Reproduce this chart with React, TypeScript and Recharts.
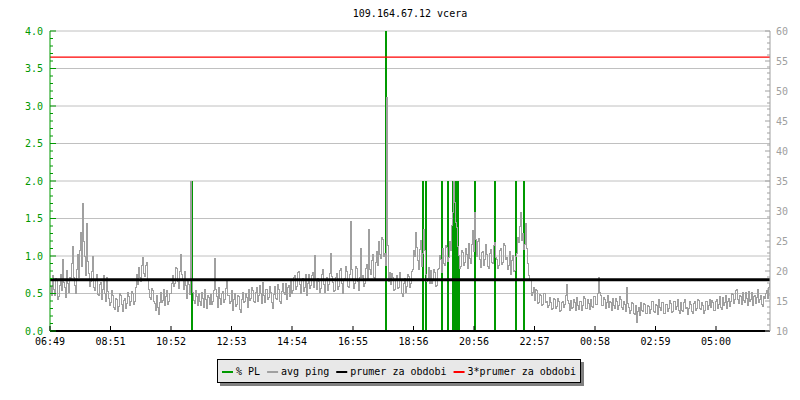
import React from 'react';
import { ComposedChart, Line, Bar, XAxis, YAxis, CartesianGrid, ReferenceLine } from 'recharts';

const TITLE = '109.164.67.12 vcera';
const STEP_MIN = 2;

const PING = [
  17.5, 15.9, 19.2, 17.0, 16.0, 18.7, 18.4, 15.3, 15.8, 17.6, 19.5, 16.8, 22.0, 18.1, 17.2, 15.6, 20.1, 17.9, 16.4, 19.0,
  18.8, 21.3, 24.1, 18.9, 17.6, 16.2, 20.3, 22.7, 19.0, 23.4, 26.5, 20.8, 31.2, 25.0, 22.4, 19.3, 28.0, 21.6, 19.6, 17.4,
  18.2, 20.0, 22.5, 17.3, 16.8, 18.6, 19.4, 16.1, 15.9, 17.8, 18.1, 15.2, 17.0, 19.3, 16.2, 14.9, 19.0, 16.6, 15.4, 14.2,
  14.8, 16.7, 15.9, 13.9, 13.6, 15.4, 15.2, 13.3, 14.1, 16.3, 16.0, 14.4, 13.2, 15.1, 15.5, 13.7, 14.6, 16.4, 15.8, 14.3,
  14.9, 16.6, 16.2, 14.5, 15.0, 17.3, 19.4, 17.8, 20.6, 18.9, 18.2, 20.9, 22.3, 19.6, 19.1, 21.0, 21.5, 18.4, 17.0, 15.6,
  15.3, 17.1, 16.8, 14.9, 14.6, 13.5, 15.9, 14.0, 12.8, 14.7, 16.4, 14.8, 15.1, 16.9, 14.2, 15.7, 16.7, 14.4, 15.0, 16.3,
  16.2, 18.0, 19.3, 17.4, 18.0, 20.6, 20.4, 18.2, 17.1, 19.9, 22.8, 19.5, 18.6, 16.9, 20.0, 17.6, 15.4, 18.3, 17.8, 16.1,
  35.0, 18.6, 16.5, 15.1, 14.6, 16.8, 15.8, 14.3, 16.3, 15.0, 14.2, 16.4, 15.5, 13.9, 16.9, 15.2, 13.8, 15.9, 15.6, 14.5,
  16.1, 14.4, 14.9, 16.7, 22.1, 17.0, 15.7, 14.0, 17.3, 15.5, 14.5, 16.2, 16.6, 14.8, 15.2, 17.1, 18.4, 15.9, 16.0, 14.6,
  15.0, 16.8, 13.4, 15.3, 16.2, 14.1, 14.4, 16.0, 15.8, 13.6, 13.1, 15.2, 16.5, 14.7, 14.9, 16.3, 15.6, 13.9, 17.0, 15.1,
  15.4, 17.3, 16.8, 14.9, 14.7, 16.4, 17.2, 15.0, 15.9, 17.6, 16.3, 14.6, 18.1, 16.0, 14.8, 16.9, 17.0, 15.2, 15.6, 17.4,
  16.5, 14.7, 13.8, 16.1, 17.4, 15.5, 15.2, 17.8, 16.9, 14.9, 14.6, 16.6, 18.0, 16.4, 16.1, 17.9, 15.3, 17.2, 17.6, 15.8,
  18.4, 16.3, 16.7, 18.9, 19.2, 17.0, 17.5, 19.7, 20.0, 17.7, 16.3, 18.5, 18.8, 16.6, 17.2, 19.4, 15.9, 18.0, 19.5, 17.1,
  17.6, 19.3, 19.8, 17.2, 22.6, 18.4, 16.9, 18.8, 18.3, 16.5, 17.1, 19.5, 20.2, 17.8, 16.4, 18.6, 18.9, 16.8, 17.7, 19.6,
  23.0, 19.1, 18.1, 16.6, 16.8, 18.9, 19.6, 17.0, 17.4, 20.1, 20.5, 17.9, 16.2, 18.4, 18.7, 20.8, 19.9, 17.5, 17.3, 19.4,
  28.3, 20.2, 18.6, 17.1, 17.9, 20.7, 20.4, 18.3, 16.7, 19.0, 23.8, 18.9, 19.2, 17.4, 18.0, 20.5, 21.1, 18.6, 27.0, 20.3,
  19.4, 21.7, 22.8, 19.0, 18.5, 21.4, 23.2, 21.0, 24.9, 22.7, 22.1, 25.6, 25.3, 22.4, 23.0, 20.9, 49.0, 24.2, 18.2, 19.7,
  17.8, 19.6, 18.9, 16.7, 16.9, 18.5, 19.3, 17.1, 17.2, 19.8, 18.4, 16.3, 15.7, 17.9, 18.8, 16.5, 17.5, 19.4, 19.1, 17.3,
  17.9, 19.9, 20.2, 23.5, 22.4, 26.5, 24.0, 21.8, 20.3, 23.6, 25.1, 20.7, 22.9, 27.0, 23.4, 19.5, 18.3, 18.8, 20.6, 17.9,
  20.1, 18.0, 18.4, 20.3, 19.8, 17.5, 17.6, 20.2, 20.5, 22.6, 21.9, 19.8, 23.7, 21.2, 20.9, 24.3, 24.0, 21.6, 22.2, 25.0,
  23.5, 27.6, 29.8, 35.0, 31.4, 28.1, 27.2, 24.1, 22.6, 20.4, 20.8, 23.4, 23.1, 21.0, 21.4, 23.8, 22.7, 20.5, 24.6, 22.1,
  21.3, 24.4, 26.8, 23.2, 29.7, 25.3, 22.5, 24.9, 25.4, 22.0, 20.6, 23.1, 23.3, 20.9, 21.9, 24.5, 22.8, 20.7, 20.4, 23.0,
  23.6, 21.4, 21.2, 24.3, 24.7, 22.2, 22.0, 20.5, 20.9, 23.5, 23.8, 21.1, 21.5, 24.6, 24.2, 22.0, 22.3, 20.3, 21.0, 23.2,
  19.4, 21.8, 22.6, 20.0, 20.1, 22.4, 23.0, 25.6, 24.8, 27.4, 29.7, 25.1, 26.2, 23.6, 24.5, 27.9, 23.8, 21.2, 19.3, 18.6,
  18.5, 16.0, 16.4, 17.3, 15.1, 16.9, 16.8, 14.6, 14.7, 16.1, 15.9, 14.2, 14.5, 16.3, 16.2, 14.8, 15.0, 13.9, 14.3, 15.6,
  14.8, 13.6, 13.7, 15.4, 15.2, 13.8, 14.1, 15.5, 14.9, 13.3, 13.5, 14.7, 15.0, 13.9, 14.4, 16.0, 17.7, 15.1, 14.6, 13.4,
  15.1, 13.7, 13.9, 15.3, 14.7, 13.5, 15.6, 14.2, 13.6, 15.0, 14.9, 13.4, 14.2, 15.7, 15.4, 13.8, 13.8, 15.2, 14.6, 13.6,
  15.3, 14.1, 14.0, 15.8, 15.7, 14.5, 14.4, 16.2, 19.0, 16.4, 15.9, 14.2, 14.3, 15.6, 15.2, 13.8, 14.8, 15.9, 13.9, 15.0,
  14.7, 13.5, 15.5, 14.2, 13.8, 15.4, 14.9, 13.6, 14.2, 15.7, 15.3, 13.9, 13.6, 15.0, 14.5, 13.2, 17.3, 14.6, 14.0, 12.9,
  13.4, 14.8, 14.6, 13.0, 12.8, 14.2, 11.5, 13.3, 13.9, 12.6, 14.8, 13.5, 13.2, 14.6, 14.4, 12.9, 12.9, 14.3, 14.1, 13.0,
  13.6, 15.0, 14.9, 13.3, 13.1, 14.5, 14.3, 12.8, 15.2, 13.9, 13.4, 14.8, 14.7, 13.0, 12.9, 14.4, 14.5, 13.2, 13.8, 15.1,
  14.6, 13.1, 13.3, 14.9, 15.0, 13.6, 14.1, 15.3, 13.5, 12.9, 14.8, 13.4, 13.2, 14.7, 15.3, 13.8, 14.0, 12.8, 13.7, 15.0,
  14.4, 13.2, 13.0, 14.6, 14.9, 13.5, 13.8, 15.2, 15.1, 13.7, 13.6, 14.8, 14.3, 12.9, 13.4, 14.9, 15.0, 13.6, 14.2, 15.3,
  13.9, 15.1, 14.7, 13.4, 13.5, 14.9, 15.2, 13.8, 14.4, 15.7, 14.0, 13.6, 15.6, 14.3, 14.8, 16.0, 13.7, 14.9, 15.4, 14.1,
  14.9, 16.3, 16.1, 14.6, 15.3, 16.8, 17.0, 15.2, 14.6, 16.0, 15.8, 14.5, 16.4, 15.1, 14.8, 16.5, 15.5, 14.2, 16.6, 15.0,
  15.2, 16.4, 14.3, 15.8, 16.0, 14.6, 15.6, 16.9, 14.7, 15.3, 15.9, 14.4, 14.1, 15.7, 15.4, 16.2, 16.8, 15.5, 17.2, 18.0,
];

// packet loss events: minute since 06:49 and % PL
const PL_TIMES = [284, 672, 746, 752, 784, 796, 806, 808, 810, 812, 814, 816, 818, 850, 890, 932, 948];
const PL_VALUES = [2.0, 4.0, 2.0, 2.0, 2.0, 2.0, 2.0, 2.0, 1.0, 2.0, 0.9, 2.0, 0.9, 2.0, 2.0, 2.0, 2.0];

const PRUMER = 18.55;
const PRUMER3 = 55.65;

const X_TICKS = [0, 121, 242, 363, 484, 606, 727, 848, 969, 1090, 1211, 1332];
const X_LABELS = ['06:49', '08:51', '10:52', '12:53', '14:54', '16:55', '18:56', '20:56', '22:57', '00:58', '02:59', '05:00'];

const PL_GRID = [0.5, 1.0, 1.5, 2.0, 2.5, 3.0, 3.5, 4.0];
const PL_TICKS = Array.from({ length: 41 }, (_, i) => i / 10);
const PING_TICKS = Array.from({ length: 51 }, (_, i) => 10 + i);

const LEGEND = [
  { label: '% PL', color: '#009900' },
  { label: 'avg ping', color: '#a0a0a0' },
  { label: 'prumer za obdobi', color: '#000000' },
  { label: '3*prumer za obdobi', color: '#ff0000' },
];

const GREEN = '#009900';
const GRAYLINE = '#a0a0a0';
const MONO = '"DejaVu Sans Mono", monospace';

const data = (() => {
  const rows = PING.map((v, i) => ({ t: i * STEP_MIN, ping: v as number | undefined, pl: undefined as number | undefined }));
  PL_TIMES.forEach((t, k) => {
    const row = rows.find((r) => r.t === t);
    if (row) row.pl = PL_VALUES[k];
    else rows.push({ t, ping: undefined, pl: PL_VALUES[k] });
  });
  rows.sort((a, b) => a.t - b.t);
  return rows;
})();

const LeftTick = (props: any) => {
  const { x, y, payload } = props;
  const v = payload.value as number;
  const major = Math.abs(v * 2 - Math.round(v * 2)) < 1e-6;
  return (
    <g>
      <line x1={x} x2={x + (major ? 6 : 3)} y1={y} y2={y} stroke={GREEN} strokeWidth={1} />
      {major && (
        <text x={x - 7} y={y} dy={3.7} textAnchor="end" fill={GREEN} fontSize={10} fontFamily={MONO}>
          {v.toFixed(1)}
        </text>
      )}
    </g>
  );
};

const RightTick = (props: any) => {
  const { x, y, payload } = props;
  const v = payload.value as number;
  const major = v % 5 === 0;
  return (
    <g>
      <line x1={x - (major ? 5 : 3)} x2={x} y1={y} y2={y} stroke="#a0a0a0" strokeWidth={1} />
      {major && (
        <text x={x + 6} y={y} dy={3.7} textAnchor="start" fill="#a0a0a0" fontSize={10} fontFamily={MONO}>
          {v}
        </text>
      )}
    </g>
  );
};

const BottomTick = (props: any) => {
  const { x, y, payload, index } = props;
  const idx = X_TICKS.indexOf(payload.value);
  const label = X_LABELS[idx >= 0 ? idx : index];
  return (
    <g>
      <line x1={x} x2={x} y1={y - 5} y2={y} stroke="#000" strokeWidth={1} />
      <text x={x} y={y + 14} textAnchor="middle" fill="#000" fontSize={10} fontFamily={MONO}>
        {label}
      </text>
    </g>
  );
};

const PlShape = (props: any) => {
  const { x, y, width, height } = props;
  if (!height || height <= 0) return null;
  const cx = x + width / 2;
  return <rect x={cx - 1} y={y} width={2} height={height} fill={GREEN} shapeRendering="crispEdges" />;
};

export default function App() {
  let lx = 222;
  const legendItems = LEGEND.map((it) => {
    const sx = lx;
    const tx = sx + 14;
    lx = tx + it.label.length * 6.02 + 7;
    return (
      <g key={it.label}>
        <rect x={sx} y={371} width={11} height={2} fill={it.color} />
        <text x={tx} y={374.5} fontSize={10} fontFamily={MONO} fill="#000">
          {it.label}
        </text>
      </g>
    );
  });

  return (
    <div style={{ position: 'absolute', left: 0, top: 0, width: 800, height: 400, background: '#fff' }}>
      <ComposedChart
        width={800}
        height={400}
        data={data}
        margin={{ top: 31, right: 0, bottom: 39, left: 0 }}
      >
        <CartesianGrid
          vertical={false}
          horizontalValues={PL_GRID}
          yAxisId="pl"
          stroke="#c0c0c0"
          strokeWidth={1}
        />
        <XAxis
          dataKey="t"
          type="number"
          domain={[0, 1440]}
          ticks={X_TICKS}
          interval={0}
          height={30}
          tickSize={0}
          tickMargin={0}
          tickLine={false}
          tick={<BottomTick />}
          axisLine={{ stroke: '#000', strokeWidth: 2 }}
          allowDataOverflow
        />
        <YAxis
          yAxisId="pl"
          orientation="left"
          domain={[0, 4]}
          ticks={PL_TICKS}
          interval={0}
          width={50}
          tickSize={0}
          tickMargin={0}
          tickLine={false}
          tick={<LeftTick />}
          axisLine={{ stroke: GREEN, strokeWidth: 1 }}
          allowDataOverflow
        />
        <YAxis
          yAxisId="ping"
          orientation="right"
          domain={[10, 60]}
          ticks={PING_TICKS}
          interval={0}
          width={30}
          tickSize={0}
          tickMargin={0}
          tickLine={false}
          tick={<RightTick />}
          axisLine={{ stroke: '#a0a0a0', strokeWidth: 1 }}
          allowDataOverflow
        />
        <Bar yAxisId="pl" dataKey="pl" fill={GREEN} barSize={2} shape={<PlShape />} isAnimationActive={false} />
        <Line
          yAxisId="ping"
          dataKey="ping"
          type="stepAfter"
          stroke={GRAYLINE}
          strokeWidth={1}
          shapeRendering="crispEdges"
          dot={false}
          activeDot={false}
          connectNulls
          isAnimationActive={false}
        />
        <ReferenceLine yAxisId="ping" y={PRUMER} stroke="#000" strokeWidth={3} />
        <ReferenceLine yAxisId="ping" y={PRUMER3} stroke="#ff0000" strokeWidth={1.3} />
      </ComposedChart>
      <svg width={800} height={400} style={{ position: 'absolute', left: 0, top: 0, pointerEvents: 'none' }}>
        <text x={410} y={17} textAnchor="middle" fontSize={10} fontFamily={MONO} fill="#000">
          {TITLE}
        </text>
        <rect x={220} y={362} width={364} height={24} fill="#808080" />
        <rect x={217.5} y={359.5} width={363} height={23} fill="#e8e8e8" stroke="#000" strokeWidth={1} />
        {legendItems}
      </svg>
    </div>
  );
}
